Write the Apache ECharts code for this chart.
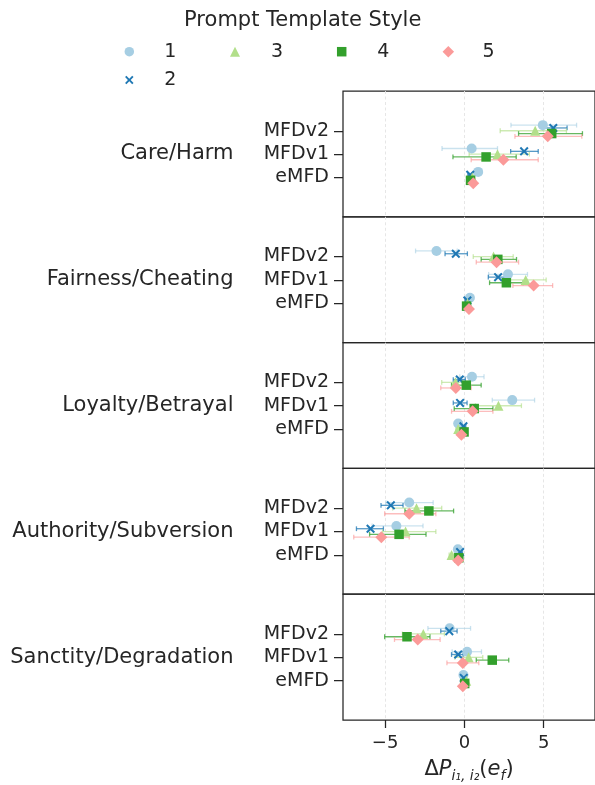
<!DOCTYPE html>
<html><head><meta charset="utf-8">
<script src="https://cdn.jsdelivr.net/npm/echarts@6/dist/echarts.min.js"></script>
<style>html,body{margin:0;padding:0;background:#fff}#c{width:595px;height:785px}</style>
</head><body><div id="c"></div>
<script>
// ---- data ----
const categories = ['MFDv2', 'MFDv1', 'eMFD'];
const panels = ['Care/Harm', 'Fairness/Cheating', 'Loyalty/Betrayal', 'Authority/Subversion', 'Sanctity/Degradation'];
const styles = ['1', '2', '3', '4', '5'];
const xTicks = [-5, 0, 5];

// per style: values ordered panel by panel, each panel [MFDv2, MFDv1, eMFD]
const style1Mean = [4.95, 0.46, 0.87,  -1.76, 2.75, 0.35,  0.48, 3.02, -0.39,  -3.48, -4.29, -0.41,  -0.93, 0.17, -0.06];
const style1Lo   = [2.94, -1.41, 0.72, -3.08, 1.53, 0.20,  -0.29, 1.76, -0.54, -4.95, -5.82, -0.56,  -2.30, -0.77, -0.21];
const style1Hi   = [7.08, 2.09, 1.02,  -0.45, 3.98, 0.50,  1.24, 4.43, -0.24,  -1.97, -2.61, -0.26,  0.39, 1.08, 0.09];

const style2Mean = [5.61, 3.77, 0.37,  -0.54, 2.13, 0.19,  -0.29, -0.27, -0.06,  -4.64, -5.92, -0.27,  -0.95, -0.39, -0.04];
const style2Lo   = [4.93, 2.92, 0.22,  -1.22, 1.51, 0.04,  -0.70, -0.70, -0.21,  -5.26, -6.81, -0.42,  -1.49, -0.81, -0.19];
const style2Hi   = [6.48, 4.66, 0.52,  0.19, 2.75, 0.34,   0.06, 0.17, 0.09,     -3.87, -5.11, -0.12,  -0.46, -0.08, 0.11];

const style3Mean = [4.47, 2.09, 0.50,  1.84, 3.87, 0.20,   -0.56, 2.15, -0.39,  -3.02, -3.71, -0.81,  -2.59, 0.27, 0.12];
const style3Lo   = [2.26, 0.30, 0.35,  0.56, 2.60, 0.05,   -1.43, 0.70, -0.54,  -4.53, -5.16, -0.96,  -3.91, -0.60, -0.03];
const style3Hi   = [6.44, 4.10, 0.65,  3.08, 5.16, 0.35,   0.39, 3.60, -0.24,   -1.43, -1.80, -0.66,  -1.26, 1.16, 0.27];

const style4Mean = [5.51, 1.37, 0.39,  2.11, 2.65, 0.14,   0.12, 0.62, -0.02,   -2.24, -4.12, -0.35,  -3.62, 1.76, 0.02];
const style4Lo   = [3.42, -0.72, 0.24, 1.06, 1.59, -0.01,  -0.81, -0.64, -0.17, -3.75, -5.98, -0.50,  -5.03, 0.75, -0.13];
const style4Hi   = [7.45, 3.27, 0.54,  3.29, 3.71, 0.29,   1.06, 1.80, 0.13,    -0.68, -2.42, -0.20,  -2.17, 2.80, 0.17];

const style5Mean = [5.26, 2.46, 0.56,  2.03, 4.37, 0.29,   -0.54, 0.52, -0.19,  -3.48, -5.24, -0.39,  -2.94, -0.10, -0.10];
const style5Lo   = [3.19, 0.43, 0.41,  0.75, 3.06, 0.14,   -1.49, -0.81, -0.34, -5.03, -6.98, -0.54,  -4.41, -1.10, -0.25];
const style5Hi   = [7.41, 4.66, 0.71,  3.42, 5.57, 0.44,   0.43, 1.80, -0.04,   -1.80, -3.48, -0.24,  -1.53, 0.91, 0.05];

const means = [style1Mean, style2Mean, style3Mean, style4Mean, style5Mean];
const los = [style1Lo, style2Lo, style3Lo, style4Lo, style5Lo];
const his = [style1Hi, style2Hi, style3Hi, style4Hi, style5Hi];

// ---- style ----
const F = 'DejaVu Sans';
const INK = '#262626';
const colors = ['#a6cee3', '#1f78b4', '#b2df8a', '#33a02c', '#fb9a99'];
const errColors = ['rgba(166,206,227,0.6)', 'rgba(31,120,180,0.75)', 'rgba(178,223,138,0.65)', 'rgba(51,160,44,0.75)', 'rgba(251,154,153,0.65)'];
const XPATH = 'path://M1.6,0 L5,3.4 L8.4,0 L10,1.6 L6.6,5 L10,8.4 L8.4,10 L5,6.6 L1.6,10 L0,8.4 L3.4,5 L0,1.6 Z';
const symbols = ['circle', XPATH, 'triangle', 'rect', 'diamond'];
const symSizes = [10, 9, 10, 9.5, 12];
const dodge = [-0.24, -0.12, 0, 0.12, 0.24];

const GRID_TOP = 91, GRID_H = 125.8, GRID_LEFT = 343, GRID_W = 256;
const PX_PER_UNIT = 16.1, ZERO_PX = 466.3;
const X_MIN = (GRID_LEFT - ZERO_PX) / PX_PER_UNIT;
const X_MAX = (GRID_LEFT + GRID_W - ZERO_PX) / PX_PER_UNIT;
const Y_MIN = -1.7, Y_MAX = 3.68;

const fmtNum = v => (v < 0 ? '\u2212' + Math.abs(v) : String(v));

const grid = [], xAxis = [], yAxis = [], series = [];
panels.forEach((p, i) => {
  const last = i === panels.length - 1;
  grid.push({left: GRID_LEFT, top: GRID_TOP + GRID_H * i, width: GRID_W, height: GRID_H,
    show: true, borderColor: INK, borderWidth: 1.25, backgroundColor: 'transparent'});
  xAxis.push({
    type: 'value', gridIndex: i, min: X_MIN, max: X_MAX,
    axisLine: {show: false, onZero: false},
    axisTick: {show: last, customValues: xTicks, length: 8, lineStyle: {color: INK, width: 1.25}},
    axisLabel: {show: last, customValues: xTicks, formatter: fmtNum, margin: 14,
      fontFamily: F, fontSize: 18, color: INK},
    splitLine: {show: true, lineStyle: {color: '#e3e3e3', width: 0.9, type: [3, 2.5]}},
    name: last ? '{n|\u0394}{it|P}{sub|i\u2081, i\u2082}{n|(}{it|e}{sub|f}{n|)}' : '',
    nameLocation: 'middle', nameGap: 36,
    nameTextStyle: {color: INK, fontFamily: F, rich: {
      n: {fontSize: 21, fontFamily: F, color: INK},
      it: {fontSize: 21, fontFamily: F, fontStyle: 'italic', color: INK},
      sub: {fontSize: 14, fontFamily: F, fontStyle: 'italic', color: INK, padding: [13, 0, 0, 0]}
    }}
  });
  yAxis.push({
    type: 'value', gridIndex: i, min: Y_MIN, max: Y_MAX, inverse: true,
    axisLine: {show: false, onZero: false},
    axisTick: {show: true, customValues: [0, 1, 2], length: 9, lineStyle: {color: INK, width: 1.25}},
    axisLabel: {show: true, customValues: [0, 1, 2], formatter: v => categories[Math.round(v)] || '',
      margin: 14, fontFamily: F, fontSize: 19, color: INK},
    splitLine: {show: false},
    name: p, nameLocation: 'middle', nameRotate: 0, nameGap: 109.5,
    nameTextStyle: {fontFamily: F, fontSize: 21, color: INK, align: 'right', verticalAlign: 'middle'}
  });
  styles.forEach((s, k) => {
    const errData = categories.map((c, j) => [los[k][i * 3 + j], his[k][i * 3 + j], j + dodge[k]]);
    const col = errColors[k];
    series.push({
      type: 'custom', name: s + ' ci', xAxisIndex: i, yAxisIndex: i, z: 2 + k * 0.1,
      encode: {x: [0, 1], y: 2}, silent: true,
      renderItem: (params, api) => {
        const y = api.value(2);
        const a = api.coord([api.value(0), y]);
        const b = api.coord([api.value(1), y]);
        const h = 2.4;
        const st = {stroke: col, lineWidth: 1.3};
        return {type: 'group', children: [
          {type: 'line', shape: {x1: a[0], y1: a[1], x2: b[0], y2: b[1]}, style: st},
          {type: 'line', shape: {x1: a[0], y1: a[1] - h, x2: a[0], y2: a[1] + h}, style: st},
          {type: 'line', shape: {x1: b[0], y1: b[1] - h, x2: b[0], y2: b[1] + h}, style: st}
        ]};
      },
      data: errData
    });
  });
  styles.forEach((s, k) => {
    series.push({
      type: 'scatter', name: s, xAxisIndex: i, yAxisIndex: i, z: 5 + k * 0.1,
      symbol: symbols[k], symbolSize: symSizes[k], symbolKeepAspect: true,
      itemStyle: {color: colors[k], opacity: 1},
      emphasis: {disabled: true},
      data: categories.map((c, j) => [means[k][i * 3 + j], j + dodge[k]])
    });
  });
});

// legend: matplotlib-like 4 columns, column-major fill
const legendPos = [
  {name: '1', cx: 129.3, cy: 51.7, tx: 170}, {name: '2', cx: 129.3, cy: 80, tx: 170},
  {name: '3', cx: 235, cy: 51.7, tx: 276.7}, {name: '4', cx: 341.7, cy: 51.7, tx: 383},
  {name: '5', cx: 448.3, cy: 51.7, tx: 488.3}
];
const legIconH = [9.5, 8.5, 10, 9.5, 11.5];
const legend = legendPos.map(lp => {
  const k = styles.indexOf(lp.name);
  const s = legIconH[k];
  const pad = Math.max(0, (lp.tx - 5.8) - (lp.cx + s / 2 + 5));
  return {
    data: [lp.name], left: lp.cx - s / 2, top: lp.cy - 11, padding: 0,
    itemWidth: s, itemHeight: s, itemGap: 0, symbolKeepAspect: true,
    formatter: n => '{t|' + n + '}',
    textStyle: {fontFamily: F, fontSize: 19, color: INK, lineHeight: 22,
      rich: {t: {fontFamily: F, fontSize: 19, color: INK, lineHeight: 22, padding: [0, 0, 0, pad]}}}
  };
});

const chart = echarts.init(document.getElementById('c'), null, {renderer: 'canvas'});
chart.setOption({
  animation: false,
  backgroundColor: '#fff',
  textStyle: {fontFamily: F},
  grid, xAxis, yAxis, series, legend,
  graphic: [{type: 'text', x: 302.7, y: 21, style: {text: 'Prompt Template Style',
    font: '21px "DejaVu Sans"', fill: INK, align: 'center', verticalAlign: 'middle'}}]
});
</script></body></html>
